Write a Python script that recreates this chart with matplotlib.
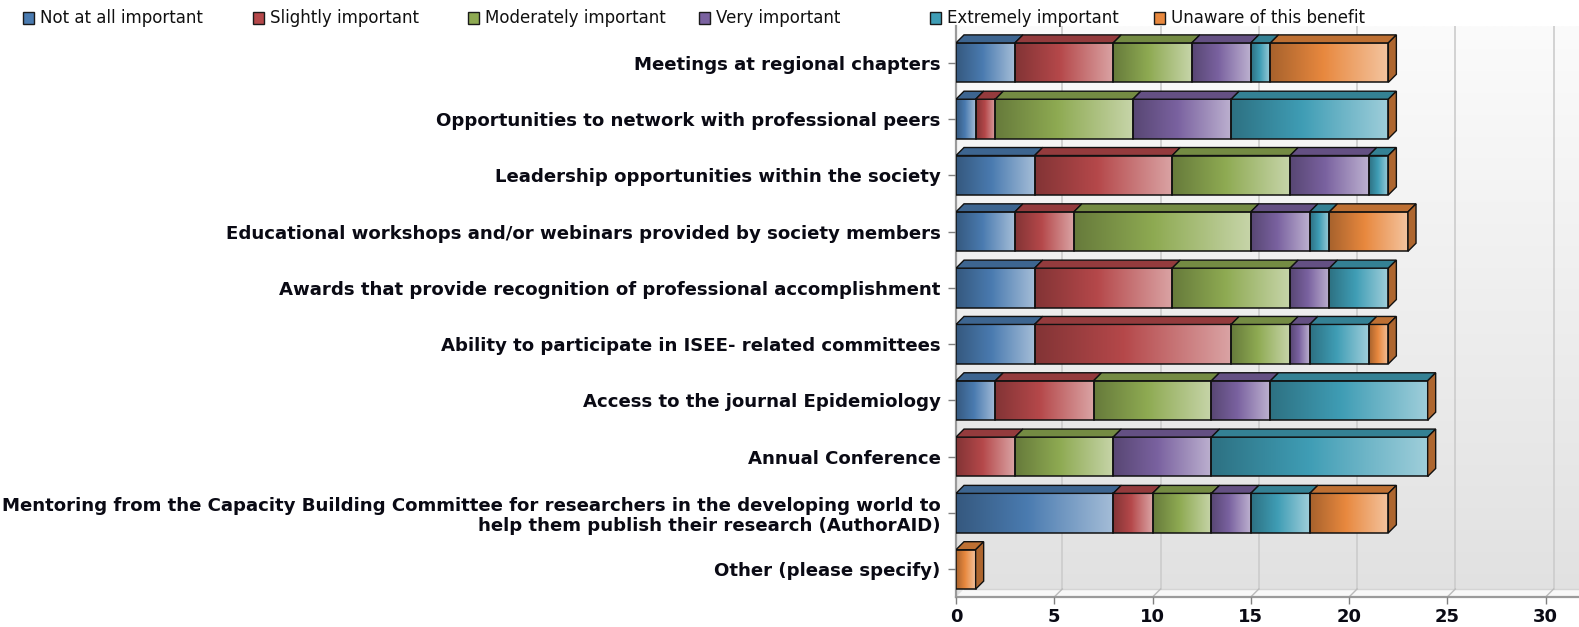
import numpy as np
import matplotlib
matplotlib.use('Agg')
import matplotlib.pyplot as plt
from matplotlib.patches import Polygon, Rectangle
from matplotlib.colors import LinearSegmentedColormap, to_rgb

# ---------------- data ----------------
categories = [
    "Meetings at regional chapters",
    "Opportunities to network with professional peers",
    "Leadership opportunities within the society",
    "Educational workshops and/or webinars provided by society members",
    "Awards that provide recognition of professional accomplishment",
    "Ability to participate in ISEE- related committees",
    "Access to the journal Epidemiology",
    "Annual Conference",
    "Mentoring from the Capacity Building Committee for researchers in the developing world to\nhelp them publish their research (AuthorAID)",
    "Other (please specify)",
]
series_names = ["Not at all important", "Slightly important", "Moderately important",
                "Very important", "Extremely important", "Unaware of this benefit"]
not_at_all = [3, 1, 4, 3, 4, 4, 2, 0, 8, 0]
slightly   = [5, 1, 7, 3, 7, 10, 5, 3, 2, 0]
moderately = [4, 7, 6, 9, 6, 3, 6, 5, 3, 0]
very       = [3, 5, 4, 3, 2, 1, 3, 5, 2, 0]
extremely  = [1, 8, 1, 1, 3, 3, 8, 11, 3, 0]
unaware    = [6, 0, 0, 4, 0, 1, 0, 0, 4, 1]
x_ticks = [0, 5, 10, 15, 20, 25, 30]

series = [not_at_all, slightly, moderately, very, extremely, unaware]
base_colors = ['#4a7bb0', '#b5484a', '#8eaa52', '#7a62a0', '#3f9db5', '#e8883e']

# ---------------- figure ----------------
W, H = 1579, 627
fig = plt.figure(figsize=(W / 100, H / 100), dpi=100)
ax_left, ax_right = 956 / W, 1.0
ax_bottom, ax_top = 1 - 597 / H, 1 - 26 / H
ax = fig.add_axes([ax_left, ax_bottom, ax_right - ax_left, ax_top - ax_bottom])

xmax = 31.7
y_top, y_bot = -0.65, 9.49
ax.set_xlim(0, xmax)
ax.set_ylim(y_bot, y_top)

px_per_x = (W - 956) / xmax
px_per_y = (597 - 26) / (y_bot - y_top)
dx = 8 / px_per_x
dy = 8 / px_per_y
bar_h = 0.70

# background gradient
bg = np.linspace(0, 1, 256).reshape(-1, 1)
bg_cmap = LinearSegmentedColormap.from_list('bg', ['#fbfbfb', '#e1e1e1'])
ax.imshow(bg, cmap=bg_cmap, extent=[0, 1, 0, 1], transform=ax.transAxes,
          aspect='auto', zorder=0, origin='upper')

# floor
floor_back = y_bot - dy
ax.add_patch(Polygon([(0, y_bot), (dx, floor_back), (xmax, floor_back), (xmax, y_bot)],
                     closed=True, facecolor='#f8f8f8', edgecolor='none', zorder=1))
ax.plot([dx, xmax], [floor_back, floor_back], color='#d4d4d4', lw=1.0, zorder=1.1)

# grid lines on back wall + floor diagonals
for t in x_ticks[1:]:
    ax.plot([t + dx, t + dx], [y_top, floor_back], color='#cccccc', lw=1.2, zorder=1.2)
    ax.plot([t + dx, t], [floor_back, y_bot], color='#bbbbbb', lw=1.0, zorder=1.2)

# axis lines
ax.plot([0, xmax], [y_bot, y_bot], color='#9a9a9a', lw=1.6, zorder=1.5, clip_on=False)
ax.plot([0, 0], [y_top, y_bot], color='#9a9a9a', lw=1.6, zorder=1.5, clip_on=False)


def shade(c, f):
    r = np.array(to_rgb(c))
    return tuple(np.clip(r * f, 0, 1))


def lighten(c, f):
    r = np.array(to_rgb(c))
    return tuple(r + (1 - r) * f)


cmaps = [LinearSegmentedColormap.from_list(
    f'c{k}', [(0, shade(c, 0.72)), (0.45, to_rgb(c)), (1, lighten(c, 0.5))])
    for k, c in enumerate(base_colors)]
grad = np.linspace(0, 1, 128).reshape(1, -1)
side_color = shade(base_colors[5], 0.75)

for i in range(len(categories)):
    left = 0
    top = i - bar_h / 2
    bottom = i + bar_h / 2
    for k, vals in enumerate(series):
        v = vals[i]
        if v <= 0:
            continue
        right = left + v
        ax.imshow(grad, cmap=cmaps[k], extent=[left, right, bottom, top],
                  aspect='auto', interpolation='bilinear', zorder=3)
        ax.add_patch(Rectangle((left, top), v, bar_h, facecolor='none',
                               edgecolor='#111111', lw=1.1, zorder=4))
        ax.add_patch(Polygon([(left, top), (left + dx, top - dy), (right + dx, top - dy), (right, top)],
                             closed=True, facecolor=shade(base_colors[k], 0.82),
                             edgecolor='#111111', lw=1.0, zorder=4))
        left = right
    total = left
    ax.add_patch(Polygon([(total, top), (total + dx, top - dy), (total + dx, bottom - dy), (total, bottom)],
                         closed=True, facecolor=side_color, edgecolor='#111111', lw=1.0, zorder=4))

# ticks
for s in ax.spines.values():
    s.set_visible(False)
ax.set_yticks(range(len(categories)))
ax.set_yticklabels(categories, fontsize=13.1, fontweight='bold', family='DejaVu Sans',
                   color='#0a0a14', linespacing=1.12)
ax.set_xticks(x_ticks)
ax.set_xticklabels([str(t) for t in x_ticks], fontsize=13, fontweight='bold',
                   family='DejaVu Sans', color='#0a0a14')
ax.tick_params(axis='y', length=6, width=1, color='#808080', pad=5)
ax.tick_params(axis='x', length=5, width=1, color='#808080', pad=3)
# nudge the two-line label slightly upward like the reference
lbl = ax.get_yticklabels()[8]

# legend
leg_text_x = [40, 270, 485, 716, 947, 1171]
leg_y = 18
for k, name in enumerate(series_names):
    tx = leg_text_x[k]
    sq = 11
    fig.add_artist(Rectangle(((tx - 17) / W, 1 - (leg_y + sq / 2) / H), sq / W, sq / H,
                             transform=fig.transFigure, facecolor=base_colors[k],
                             edgecolor='#1a1a1a', lw=1.0))
    fig.text(tx / W, 1 - leg_y / H, name, fontsize=12.0, family='DejaVu Sans',
             color='#111111', va='center', ha='left')

fig.savefig('out.png', dpi=100)
